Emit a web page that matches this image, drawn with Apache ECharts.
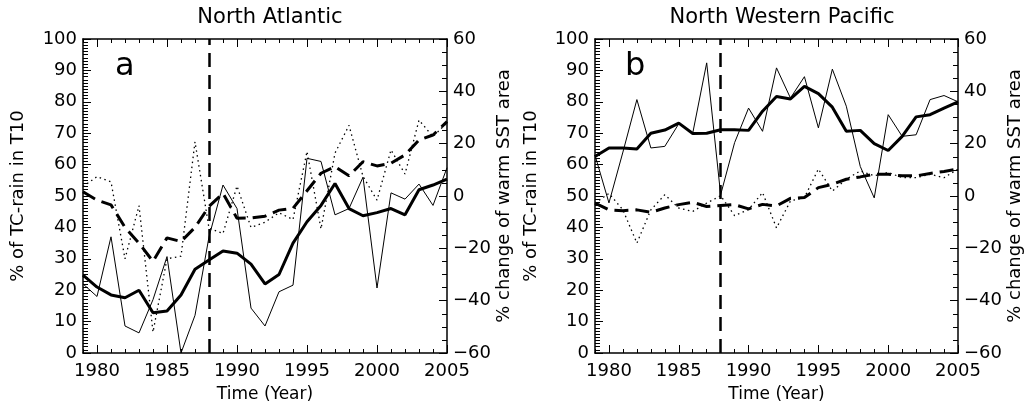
<!DOCTYPE html>
<html>
<head>
<meta charset="utf-8">
<script src="https://cdn.jsdelivr.net/npm/echarts@6/dist/echarts.min.js"></script>
<style>
  html, body { margin: 0; padding: 0; background: #fff; }
  #chart { width: 1031px; height: 412px; }
</style>
</head>
<body>
<div id="chart"></div>
<script>
// years on the x axis
const years = [1979, 1980, 1981, 1982, 1983, 1984, 1985, 1986, 1987, 1988, 1989, 1990, 1991,
  1992, 1993, 1994, 1995, 1996, 1997, 1998, 1999, 2000, 2001, 2002, 2003, 2004, 2005];
const markYear = 1988;

// North Atlantic
const naRain = [22, 18, 37, 8.6, 6.4, 17, 30.7, 0, 12, 37, 53.5, 46, 14.3, 8.6, 19.5, 21.6,
  62, 61, 44, 46, 56, 20.7, 51, 49, 53.8, 47, 59];
const naRainSmooth = [24.8, 21, 18.5, 17.6, 20, 12.8, 13.4, 18.5, 26.7, 29.6, 32.5, 31.8, 28.3,
  22, 25, 35, 41.8, 47, 54, 46, 43.7, 44.7, 46, 44, 52, 53.5, 55.4];
const naSst = [3.6, 7.4, 5.4, -24, -3.7, -52, -24, -23, 20.7, -12.3, -14.3, 3.8, -12, -10,
  -6.4, -9, 17, -12.6, 16.4, 27, 7.5, -1.6, 17.6, 8.4, 29, 22.7, 28];
const naSstSmooth = [1.6, -1.6, -3.4, -12, -18, -25, -16, -17.4, -12, -4, 1, -8.5, -8.4, -7.7,
  -5.4, -4.7, 2, 8.7, 11.2, 7.7, 13.1, 11.5, 12.5, 15.7, 21.4, 23.3, 28.4];

// North Western Pacific
const nwpRain = [63, 47.8, 64, 80.7, 65.3, 65.8, 73, 70, 92.4, 50.4, 67, 78, 70.6, 90.8, 81.2,
  88, 71.7, 90.4, 78.6, 59.4, 49.4, 75.9, 69, 69.5, 80.7, 82, 80];
const nwpRainSmooth = [62.6, 65.3, 65.3, 65, 70, 71, 73.2, 69.9, 70, 71.1, 71.1, 70.9, 77, 81.7,
  80.9, 84.9, 82.6, 78.3, 70.6, 70.9, 66.7, 64.5, 69, 75.2, 75.9, 78, 80];
const nwpSst = [-2.7, 1, -5.3, -18, -5.3, 0.5, -4.6, -5.9, -2.7, 0.1, -7.5, -5.2, 1.3, -12.2,
  -1.9, -0.6, 10.3, 1.9, 6.4, 9.6, 7.7, 9, 7, 7, 8.3, 7, 10.3];
const nwpSstSmooth = [-2.7, -5.3, -5.6, -5.3, -6.2, -4.6, -3.3, -2.4, -4, -3.6, -3.3, -4.9, -3.2,
  -3.8, -0.9, -0.6, 3.2, 4.5, 6.4, 7.3, 8.3, 8.3, 7.7, 7.7, 8.6, 9.4, 10.3];

const panelTitles = ["North Atlantic", "North Western Pacific"];
const panelLetters = ["a", "b"];
const leftName = "% of TC-rain in T10";
const rightName = "% change of warm SST area";
const xName = "Time (Year)";

const FONT = "DejaVu Sans";
const INK = "#000";

const grids = [
  { left: 83, right: 584, top: 39, bottom: 59 },
  { left: 595, right: 73, top: 39, bottom: 59 }
];
// distance of the rotated y-axis names from the axis lines
const nameGaps = [[56, 43], [55, 43]];

const isMajor = (i, v) => Number(v) % 5 === 0;

function xAxes(g) {
  const base = {
    type: "category", data: years, boundaryGap: false, gridIndex: g,
    splitLine: { show: false }
  };
  return [
    // bottom, with labels and long ticks
    Object.assign({}, base, {
      position: "bottom",
      axisLine: { show: true, onZero: false, lineStyle: { color: INK, width: 1.5 } },
      axisTick: { show: true, inside: true, length: 8, interval: isMajor, lineStyle: { color: INK } },
      axisLabel: { interval: isMajor, color: INK, fontFamily: FONT, fontSize: 18, margin: 9 },
      name: xName, nameLocation: "middle", nameGap: 33,
      nameTextStyle: { color: INK, fontFamily: FONT, fontSize: 17 }
    }),
    // bottom short ticks
    Object.assign({}, base, {
      position: "bottom",
      axisLine: { show: false, onZero: false },
      axisTick: { show: true, inside: true, length: 4, interval: 0, lineStyle: { color: INK } },
      axisLabel: { show: false }
    }),
    // top
    Object.assign({}, base, {
      position: "top",
      axisLine: { show: true, onZero: false, lineStyle: { color: INK, width: 1.5 } },
      axisTick: { show: true, inside: true, length: 8, interval: isMajor, lineStyle: { color: INK } },
      axisLabel: { show: false }
    }),
    Object.assign({}, base, {
      position: "top",
      axisLine: { show: false, onZero: false },
      axisTick: { show: true, inside: true, length: 4, interval: 0, lineStyle: { color: INK } },
      axisLabel: { show: false }
    })
  ];
}

function yAxes(g) {
  const common = {
    type: "value", gridIndex: g,
    splitLine: { show: false }, minorSplitLine: { show: false },
    axisLine: { show: true, onZero: false, lineStyle: { color: INK, width: 1.5 } },
    axisTick: { show: true, inside: true, length: 8, lineStyle: { color: INK } },
    axisLabel: {
      color: INK, fontFamily: FONT, fontSize: 18, margin: 6,
      formatter: v => String(v).replace("-", "\u2212")
    },
    nameLocation: "middle", nameRotate: 90,
    nameTextStyle: { color: INK, fontFamily: FONT, fontSize: 18 }
  };
  return [
    Object.assign({}, common, {
      position: "left", min: 0, max: 100, interval: 10,
      minorTick: { show: true, splitNumber: 10, length: 5, lineStyle: { color: INK, width: 1 } },
      name: leftName, nameGap: nameGaps[g][0]
    }),
    Object.assign({}, common, {
      position: "right", min: -60, max: 60, interval: 20,
      minorTick: { show: true, splitNumber: 4, length: 5, lineStyle: { color: INK, width: 1 } },
      name: rightName, nameGap: nameGaps[g][1]
    })
  ];
}

function panelSeries(g, rain, rainSmooth, sst, sstSmooth) {
  const xi = g * 4, yl = g * 2, yr = g * 2 + 1;
  const line = (data, yIndex, style, z) => ({
    type: "line", xAxisIndex: xi, yAxisIndex: yIndex, data: data,
    symbol: "none", silent: true, z: z,
    lineStyle: Object.assign({ color: INK }, style)
  });
  const thin = line(rain, yl, { width: 1 }, 2);
  thin.markLine = {
    silent: true, symbol: ["none", "none"], label: { show: false },
    lineStyle: { color: INK, width: 2.5, type: [14, 8] },
    data: [{ xAxis: String(markYear) }]
  };
  return [
    thin,
    line(rainSmooth, yl, { width: 3 }, 3),
    line(sst, yr, { width: 1.3, type: [1.5, 3.5] }, 2),
    line(sstSmooth, yr, { width: 3, type: [14, 7] }, 3)
  ];
}

const chart = echarts.init(document.getElementById("chart"));
chart.setOption({
  backgroundColor: "#fff",
  animation: false,
  title: [
    { text: panelTitles[0], left: 265, top: 2, textAlign: "center",
      textStyle: { color: INK, fontFamily: FONT, fontSize: 21, fontWeight: "normal" } },
    { text: panelTitles[1], left: 777, top: 2, textAlign: "center",
      textStyle: { color: INK, fontFamily: FONT, fontSize: 21, fontWeight: "normal" } },
    { text: panelLetters[0], left: 110, top: 46,
      textStyle: { color: INK, fontFamily: FONT, fontSize: 32, fontWeight: "normal" } },
    { text: panelLetters[1], left: 620, top: 46,
      textStyle: { color: INK, fontFamily: FONT, fontSize: 32, fontWeight: "normal" } }
  ],
  grid: grids,
  xAxis: xAxes(0).concat(xAxes(1)),
  yAxis: yAxes(0).concat(yAxes(1)),
  series: panelSeries(0, naRain, naRainSmooth, naSst, naSstSmooth)
    .concat(panelSeries(1, nwpRain, nwpRainSmooth, nwpSst, nwpSstSmooth))
});
window.addEventListener("resize", () => chart.resize());
</script>
</body>
</html>
